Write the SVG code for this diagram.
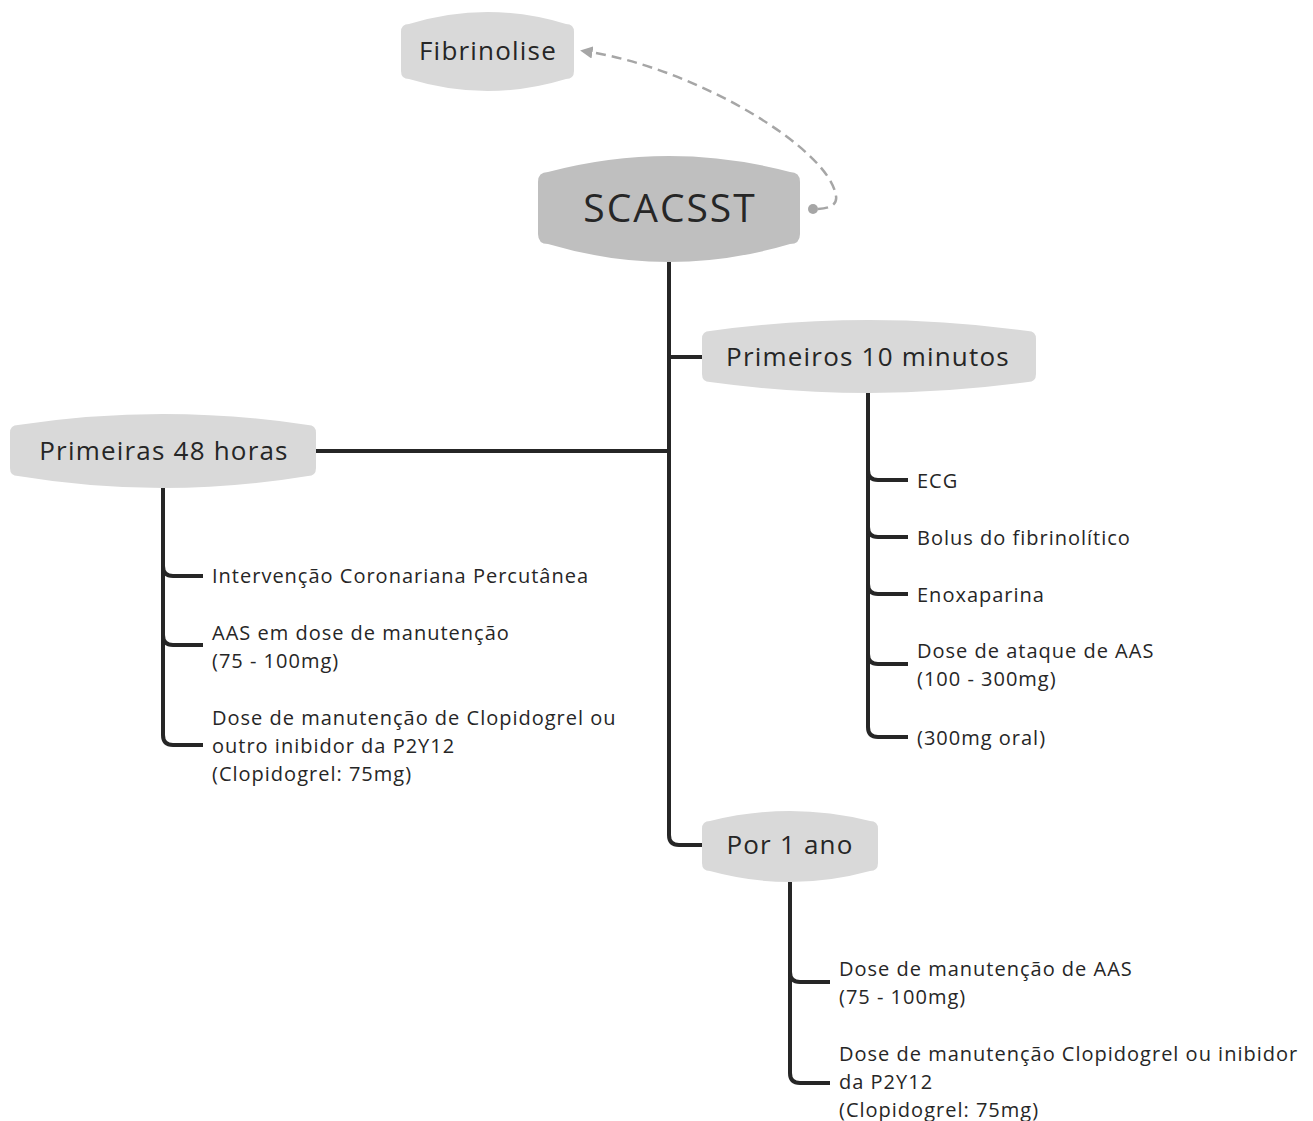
<svg xmlns="http://www.w3.org/2000/svg" width="1313" height="1121" viewBox="0 0 1313 1121">
<style>
.node{fill:#d9d9d9}
.root{fill:#bfbfbf}
.t{font-family:"Open Sans","Liberation Sans",sans-serif;fill:#262626}
.nt{font-size:26px;text-anchor:middle;letter-spacing:1.2px}
.rt{font-size:39px;text-anchor:middle;letter-spacing:2px}
.lt{font-size:20px;letter-spacing:1px}
.ln{fill:none;stroke:#262626;stroke-width:4;stroke-linecap:butt}
.dash{fill:none;stroke:#a6a6a6;stroke-width:2.5;stroke-dasharray:10 6}
</style>
<defs>
<marker id="arr" viewBox="0 0 10 10" refX="2" refY="5" markerWidth="5" markerHeight="5" orient="auto-start-reverse">
<path d="M0,0 L10,5 L0,10 z" fill="#a6a6a6"/>
</marker>
</defs>
<g id="connectors">
<path class="ln" d="M669,262 L669,835 Q669,845 679,845 L702,845"/>
<path class="ln" d="M669,357 L702,357"/>
<path class="ln" d="M669,451 L316,451"/>
<path class="ln" d="M163,488 L163,735 Q163,745 173,745 L203,745"/>
<path class="ln" d="M163,566 Q163,576 173,576 L203,576"/>
<path class="ln" d="M163,635 Q163,645 173,645 L203,645"/>
<path class="ln" d="M868,393 L868,727 Q868,737 878,737 L908,737"/>
<path class="ln" d="M868,470 Q868,480 878,480 L908,480"/>
<path class="ln" d="M868,527 Q868,537 878,537 L908,537"/>
<path class="ln" d="M868,584 Q868,594 878,594 L908,594"/>
<path class="ln" d="M868,654 Q868,664 878,664 L908,664"/>
<path class="ln" d="M790,882 L790,1073 Q790,1083 800,1083 L830,1083"/>
<path class="ln" d="M790,972 Q790,982 800,982 L830,982"/>
<path class="dash" d="M818,209 Q838,208 836,196 C830,150 700,70 590,52" marker-end="url(#arr)"/>
<circle cx="813" cy="209" r="5" fill="#a6a6a6"/>
</g>
<g id="node-fibrinolise">
<path class="node" d="M409,24 Q487.5,0 566,24 Q574,24 574,32 L574,71 Q574,79 566,79 Q487.5,103 409,79 Q401,79 401,71 L401,32 Q401,24 409,24 Z"/>
<text class="t nt" x="488" y="60">Fibrinolise</text>
</g>
<g id="node-scacsst">
<path class="root" d="M548,172 Q669,140 790,172 Q800,172 800,182 L800,234 Q800,244 790,244 Q669,280 548,244 Q538,244 538,234 L538,182 Q538,172 548,172 Z"/>
<text class="t rt" x="670" y="222">SCACSST</text>
</g>
<g id="node-primeiros10">
<path class="node" d="M710,331 Q869,309 1028,331 Q1036,331 1036,339 L1036,374 Q1036,382 1028,382 Q869,404 710,382 Q702,382 702,374 L702,339 Q702,331 710,331 Z"/>
<text class="t nt" x="868" y="366">Primeiros 10 minutos</text>
</g>
<g id="node-primeiras48">
<path class="node" d="M18,425 Q163,403 308,425 Q316,425 316,433 L316,468 Q316,476 308,476 Q163,500 18,476 Q10,476 10,468 L10,433 Q10,425 18,425 Z"/>
<text class="t nt" x="164" y="460">Primeiras 48 horas</text>
</g>
<g id="node-por1ano">
<path class="node" d="M710,821 Q790,801 870,821 Q878,821 878,829 L878,863 Q878,871 870,871 Q790,893 710,871 Q702,871 702,863 L702,829 Q702,821 710,821 Z"/>
<text class="t nt" x="790" y="854">Por 1 ano</text>
</g>
<g id="leaf-icp"><text class="t lt" x="212" y="583">Intervenção Coronariana Percutânea</text></g>
<g id="leaf-aas48"><text class="t lt" x="212" y="640">AAS em dose de manutenção</text><text class="t lt" x="212" y="668">(75 - 100mg)</text></g>
<g id="leaf-clop48"><text class="t lt" x="212" y="725">Dose de manutenção de Clopidogrel ou</text><text class="t lt" x="212" y="753">outro inibidor da P2Y12</text><text class="t lt" x="212" y="781">(Clopidogrel: 75mg)</text></g>
<g id="leaf-ecg"><text class="t lt" x="917" y="488">ECG</text></g>
<g id="leaf-bolus"><text class="t lt" x="917" y="545">Bolus do fibrinolítico</text></g>
<g id="leaf-enox"><text class="t lt" x="917" y="602">Enoxaparina</text></g>
<g id="leaf-ataque"><text class="t lt" x="917" y="658">Dose de ataque de AAS</text><text class="t lt" x="917" y="686">(100 - 300mg)</text></g>
<g id="leaf-oral"><text class="t lt" x="917" y="745">(300mg oral)</text></g>
<g id="leaf-aas1"><text class="t lt" x="839" y="976">Dose de manutenção de AAS</text><text class="t lt" x="839" y="1004">(75 - 100mg)</text></g>
<g id="leaf-clop1"><text class="t lt" x="839" y="1061">Dose de manutenção Clopidogrel ou inibidor</text><text class="t lt" x="839" y="1089">da P2Y12</text><text class="t lt" x="839" y="1117">(Clopidogrel: 75mg)</text></g>
</svg>
